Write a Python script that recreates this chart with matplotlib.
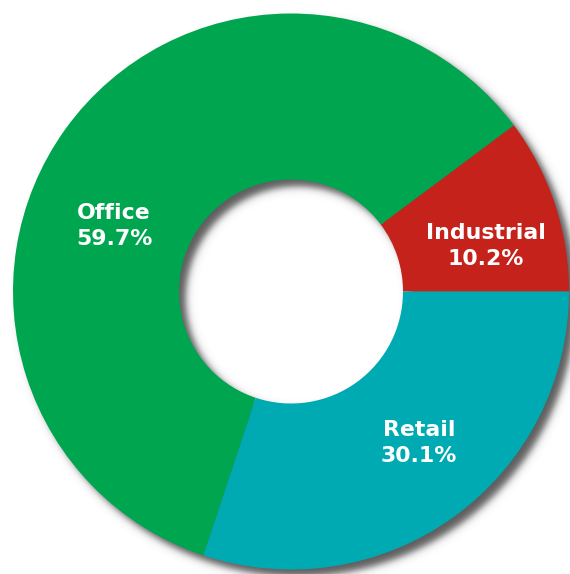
import numpy as np
import matplotlib
matplotlib.use("Agg")
import matplotlib.pyplot as plt

labels = ["Industrial", "Office", "Retail"]
shares = [10.2, 59.7, 30.1]
colors = ["#C4221B", "#00A54F", "#00AAB2"]

W, H = 570, 574
cx, cy = 291, H - 291.5   # donut center (data coords, y up)
R, r = 278, 112           # outer / inner radius
label_pos = [(486, H - 246), (114, H - 226), (419, H - 443)]

fig = plt.figure(figsize=(W / 100, H / 100), dpi=100)
ax = fig.add_axes([0, 0, 1, 1])

# soft drop shadow of the ring (offset down-right, blurred edges)
xx, yy = np.meshgrid(np.arange(W) + 0.5, np.arange(H) + 0.5)
d = np.hypot(xx - (cx + 7), yy - (cy - 7))
s = 4.5
alpha = 0.5 * (1 - np.tanh((d - R) / s)) * 0.5 * (1 + np.tanh((d - r) / s)) * 0.85
shadow = np.zeros((H, W, 4))
shadow[..., :3] = 0.25
shadow[..., 3] = alpha
ax.imshow(shadow, extent=(0, W, 0, H), origin="lower", zorder=0)

ax.pie(shares, colors=colors, startangle=0, counterclock=True, radius=R, center=(cx, cy),
       wedgeprops=dict(width=R - r, edgecolor="none", zorder=1))

for lab, val, (x, y) in zip(labels, shares, label_pos):
  ax.text(x, y, f"{lab}\n{val:.1f}%", color="white", fontsize=15.8, fontweight="bold",
          ha="center", va="center", linespacing=1.4, zorder=3)

ax.set_xlim(0, W)
ax.set_ylim(0, H)
ax.set_aspect("equal")
ax.axis("off")
fig.savefig("out.png", dpi=100)
